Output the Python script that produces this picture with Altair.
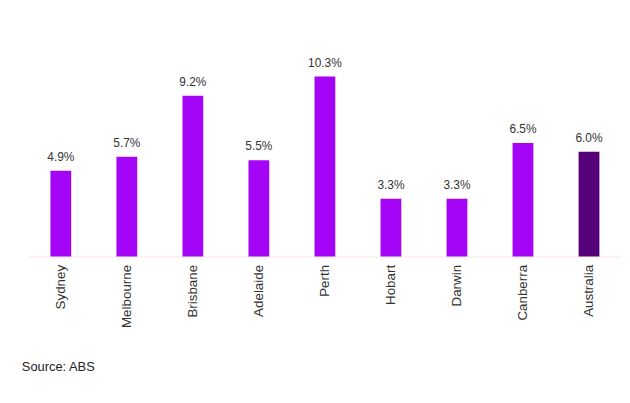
import altair as alt
import pandas as pd

cities = ["Sydney", "Melbourne", "Brisbane", "Adelaide", "Perth", "Hobart", "Darwin", "Canberra", "Australia"]
values = [4.9, 5.7, 9.2, 5.5, 10.3, 3.3, 3.3, 6.5, 6.0]
labels = ["4.9%", "5.7%", "9.2%", "5.5%", "10.3%", "3.3%", "3.3%", "6.5%", "6.0%"]
groups = ["city"] * 8 + ["national"]

df = pd.DataFrame({"city": cities, "value": values, "label": labels, "group": groups})

FONT = "Liberation Sans"

x = alt.X("city:N", sort=cities, title=None,
          scale=alt.Scale(paddingInner=0.68, paddingOuter=0.34),
          axis=alt.Axis(labelAngle=-90, labelFont=FONT, labelFontSize=13.5, labelColor="#333333",
                        ticks=False, domainColor="#f6e7df", domainWidth=1, labelPadding=8))
y = alt.Y("value:Q", scale=alt.Scale(domain=[0, 14]), axis=None)

bars = alt.Chart(df).mark_bar(size=21).encode(
    x=x, y=y,
    color=alt.Color("group:N", scale=alt.Scale(domain=["city", "national"], range=["#a505f6", "#56007a"]), legend=None),
)

text = alt.Chart(df).mark_text(baseline="bottom", dy=-7, font=FONT, fontSize=12, color="#333333").encode(
    x=alt.X("city:N", sort=cities), y="value:Q", text="label:N"
)

source = alt.Chart(pd.DataFrame({"t": ["Source: ABS"]})).mark_text(
    align="left", baseline="middle", font=FONT, fontSize=13, color="#222222"
).encode(x=alt.value(-6), y=alt.value(359), text="t:N")

chart = alt.layer(bars, text, source).properties(
    width=600, height=247,
    autosize=alt.AutoSizeParams(type="none"),
    padding={"left": 20, "top": 2, "right": 0, "bottom": 138},
).configure_view(stroke=None)

chart.save("out.html", embed_options={"renderer": "svg", "actions": False})
